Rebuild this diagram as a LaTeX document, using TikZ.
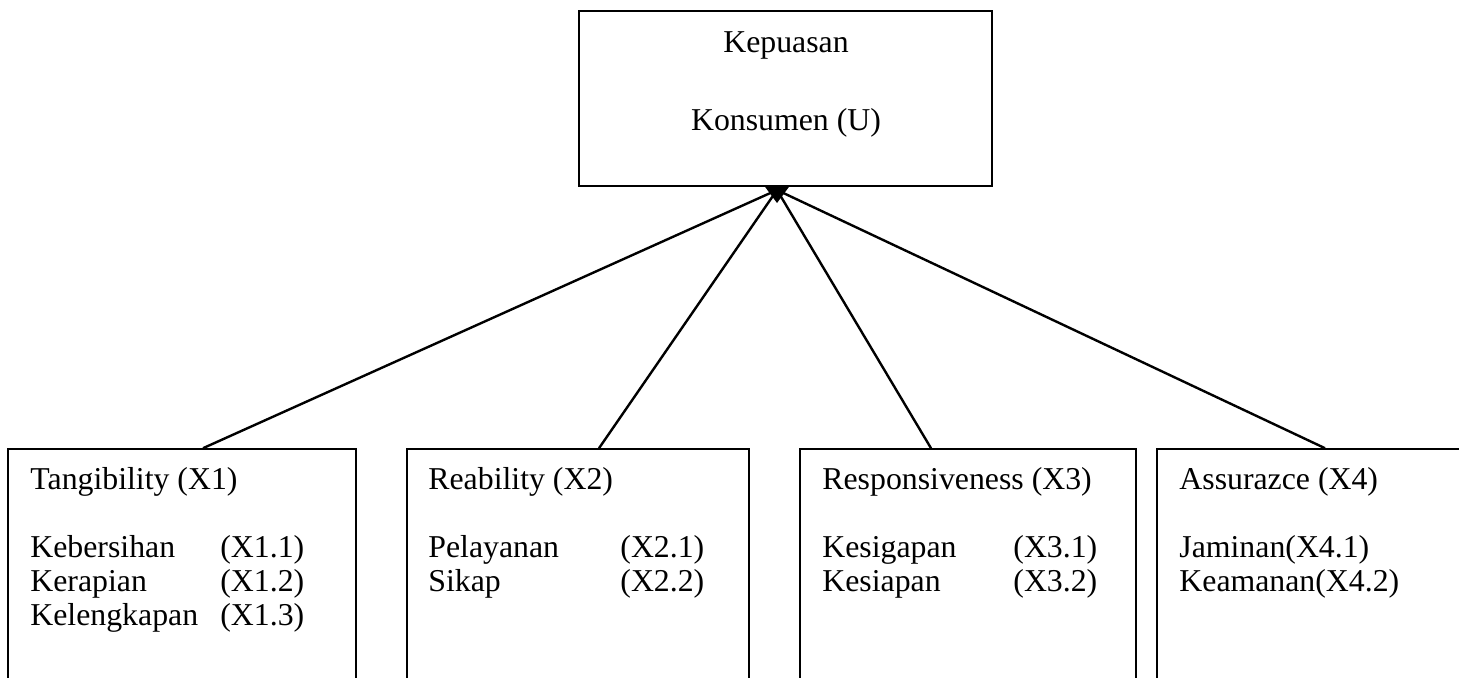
\documentclass[tikz,border=0pt]{standalone}
\usepackage{fontspec}
\setmainfont{Liberation Serif}
\begin{document}
\begin{tikzpicture}[x=0.5pt,y=-0.5pt,
  boxstyle/.style={draw=black,line width=0.8pt,rectangle,inner sep=0pt},
  lbl/.style={anchor=base west,inner sep=0pt,font=\fontsize{15.9pt}{19pt}\selectfont},
  clbl/.style={anchor=base,inner sep=0pt,font=\fontsize{15.9pt}{19pt}\selectfont},
  conn/.style={draw=black,line width=1.2pt}]
\useasboundingbox (0,0) rectangle (1459,677);
\clip (0,0) rectangle (1459,677);
% top box
\node[boxstyle,minimum width=206.5pt,minimum height=87.5pt] (top) at (785.5,98.5) {};
\node[clbl] (t1) at (786,52) {Kepuasan};
\node[clbl] (t2) at (786,130) {Konsumen (U)};
% bottom boxes
\node[boxstyle,minimum width=174pt,minimum height=135.5pt] (b1) at (182,584.5) {};
\node[boxstyle,minimum width=171pt,minimum height=135.5pt] (b2) at (578,584.5) {};
\node[boxstyle,minimum width=168pt,minimum height=135.5pt] (b3) at (968,584.5) {};
\node[boxstyle,minimum width=181.5pt,minimum height=135.5pt] (b4) at (1338.5,584.5) {};
% box 1 texts
\node[lbl] (h1) at (30,489) {Tangibility (X1)};
\node[lbl] (a11) at (30,557) {Kebersihan};
\node[lbl] (c11) at (220,557) {(X1.1)};
\node[lbl] (a12) at (30,591) {Kerapian};
\node[lbl] (c12) at (220,591) {(X1.2)};
\node[lbl] (a13) at (30,625) {Kelengkapan};
\node[lbl] (c13) at (220,625) {(X1.3)};
% box 2 texts
\node[lbl] (h2) at (428,489) {Reability (X2)};
\node[lbl] (a21) at (428,557) {Pelayanan};
\node[lbl] (c21) at (620,557) {(X2.1)};
\node[lbl] (a22) at (428,591) {Sikap};
\node[lbl] (c22) at (620,591) {(X2.2)};
% box 3 texts
\node[lbl] (h3) at (822,489) {Responsiveness (X3)};
\node[lbl] (a31) at (822,557) {Kesigapan};
\node[lbl] (c31) at (1013,557) {(X3.1)};
\node[lbl] (a32) at (822,591) {Kesiapan};
\node[lbl] (c32) at (1013,591) {(X3.2)};
% box 4 texts
\node[lbl] (h4) at (1179,489) {Assurazce (X4)};
\node[lbl] (a41) at (1179,557) {Jaminan(X4.1)};
\node[lbl] (a42) at (1179,591) {Keamanan(X4.2)};
% connectors
\coordinate (apex) at (777,190);
\draw[conn] (b1.north -| 203,0) -- (apex);
\draw[conn] (b2.north -| 599,0) -- (apex);
\draw[conn] (b3.north -| 931,0) -- (apex);
\draw[conn] (b4.north -| 1325,0) -- (apex);
\fill[black] (top.south -| 765,0) -- (top.south -| 789,0) -- (777,203) -- cycle;
\end{tikzpicture}
\end{document}
